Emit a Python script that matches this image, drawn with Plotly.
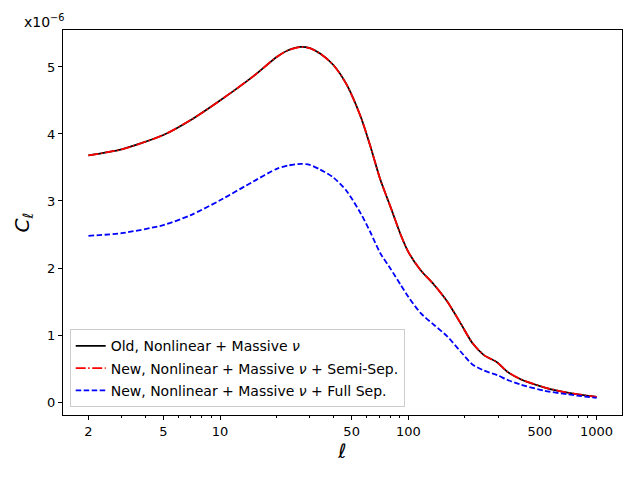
import plotly.graph_objects as go

ell = [2, 3, 5, 7, 10, 15, 20, 23, 27, 30, 34, 40, 47, 56, 63, 71, 80, 91, 100, 116,
       137, 161, 190, 219, 252, 297, 336, 395, 526, 700, 1000]

# C_ell in units of 1e-6
cl_old = [3.68, 3.77, 3.985, 4.21, 4.50, 4.86, 5.15, 5.25, 5.30, 5.28, 5.20, 5.03,
          4.74, 4.25, 3.81, 3.32, 2.93, 2.50, 2.24, 1.97, 1.75, 1.50, 1.17, 0.88,
          0.70, 0.59, 0.45, 0.34, 0.22, 0.14, 0.075]
cl_semi = [3.68, 3.77, 3.985, 4.21, 4.50, 4.86, 5.15, 5.25, 5.30, 5.28, 5.20, 5.03,
           4.74, 4.25, 3.81, 3.32, 2.93, 2.50, 2.24, 1.97, 1.75, 1.50, 1.17, 0.88,
           0.70, 0.59, 0.45, 0.34, 0.22, 0.14, 0.075]
cl_full = [2.48, 2.52, 2.64, 2.79, 3.01, 3.29, 3.48, 3.53, 3.555, 3.54, 3.47, 3.35,
           3.15, 2.81, 2.53, 2.22, 2.00, 1.75, 1.57, 1.33, 1.15, 0.98, 0.75, 0.56,
           0.47, 0.40, 0.33, 0.26, 0.17, 0.115, 0.06]

x_ticks = [2, 5, 10, 50, 100, 500, 1000]
x_minor = [3, 4, 6, 7, 8, 9, 20, 30, 40, 60, 70, 80, 90, 200, 300, 400, 600, 700, 800, 900]
y_ticks = [0, 1, 2, 3, 4, 5]

fig = go.Figure()
fig.add_trace(go.Scatter(
    x=ell, y=cl_old, mode='lines', name='Old, Nonlinear + Massive <i>ν</i>',
    legendgroup='a',
    line=dict(color='black', width=1.8, shape='spline', smoothing=0.7),
))
fig.add_trace(go.Scatter(
    x=ell, y=cl_semi, mode='lines', name='New, Nonlinear + Massive <i>ν</i> + Semi-Sep.',
    legendgroup='b',
    line=dict(color='red', width=1.8, dash='10px,2.5px,1.5px,2.5px', shape='spline', smoothing=0.7),
))
fig.add_trace(go.Scatter(
    x=ell, y=cl_full, mode='lines', name='New, Nonlinear + Massive <i>ν</i> + Full Sep.',
    legendgroup='c',
    line=dict(color='blue', width=1.8, dash='5.5px,2.5px', shape='spline', smoothing=0.7),
))

fig.update_layout(
    width=640, height=480,
    margin=dict(l=55, r=26, t=22, b=73),
    paper_bgcolor='white', plot_bgcolor='white',
    font=dict(family='DejaVu Sans', size=13, color='black'),
    legend=dict(
        x=0.012, y=0.02, xanchor='left', yanchor='bottom',
        bgcolor='rgba(255,255,255,0.8)', bordercolor='#cccccc', borderwidth=1,
        font=dict(size=14), tracegroupgap=1,
    ),
    annotations=[dict(
        text='x10<sup>−6</sup>', xref='paper', yref='paper', x=0, y=1.0,
        xanchor='right', yanchor='bottom', showarrow=False, font=dict(size=14),
        xshift=4, yshift=-2,
    )],
)
fig.update_xaxes(
    type='log', range=[0.166, 3.135],
    tickvals=x_ticks, ticktext=[str(v) for v in x_ticks],
    ticks='outside', ticklen=4, tickcolor='black',
    minor=dict(tickvals=x_minor, ticks='outside', ticklen=2, tickcolor='black'),
    showline=True, linecolor='black', linewidth=1, mirror=True,
    showgrid=False, zeroline=False,
    title=dict(text='<i>ℓ</i>', font=dict(size=20), standoff=6),
)
fig.update_yaxes(
    range=[-0.194, 5.552],
    tickvals=y_ticks, ticks='outside', ticklen=4, tickcolor='black',
    showline=True, linecolor='black', linewidth=1, mirror=True,
    showgrid=False, zeroline=False,
    title=dict(text='<i>C</i><sub><i>ℓ</i></sub>', font=dict(size=20), standoff=12),
)

fig.write_html("out.html")
